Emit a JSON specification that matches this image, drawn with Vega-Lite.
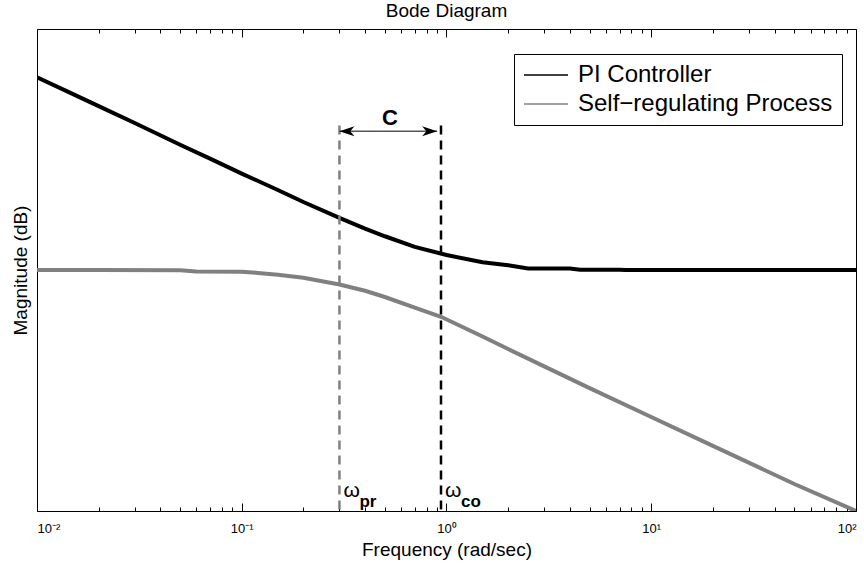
{
  "$schema": "https://vega.github.io/schema/vega-lite/v6.json",
  "width": 819,
  "height": 482,
  "autosize": {"type": "none"},
  "padding": {"left": 37, "top": 29, "right": 8, "bottom": 56},
  "background": "white",
  "title": {"text": "Bode Diagram", "fontSize": 19, "font": "Liberation Sans", "fontWeight": "normal", "offset": 8, "anchor": "middle", "color": "black"},
  "config": {
    "view": {"stroke": "black", "strokeWidth": 1},
    "font": "Liberation Sans",
    "axis": {"grid": false, "domain": false, "tickColor": "black", "labelColor": "black", "titleColor": "black", "labelFont": "Liberation Sans", "titleFont": "Liberation Sans", "titleFontWeight": "normal"}
  },
  "datasets": {
    "curves": [
      {"freq": 0.01, "mag": 40.0, "series": "PI Controller"},
      {"freq": 0.015, "mag": 36.5, "series": "PI Controller"},
      {"freq": 0.02, "mag": 34.0, "series": "PI Controller"},
      {"freq": 0.03, "mag": 30.5, "series": "PI Controller"},
      {"freq": 0.05, "mag": 26.0, "series": "PI Controller"},
      {"freq": 0.07, "mag": 23.1, "series": "PI Controller"},
      {"freq": 0.1, "mag": 20.0, "series": "PI Controller"},
      {"freq": 0.15, "mag": 16.6, "series": "PI Controller"},
      {"freq": 0.2, "mag": 14.1, "series": "PI Controller"},
      {"freq": 0.3, "mag": 10.8, "series": "PI Controller"},
      {"freq": 0.4, "mag": 8.6, "series": "PI Controller"},
      {"freq": 0.5, "mag": 7.0, "series": "PI Controller"},
      {"freq": 0.7, "mag": 4.8, "series": "PI Controller"},
      {"freq": 1.0, "mag": 3.1, "series": "PI Controller"},
      {"freq": 1.5, "mag": 1.6, "series": "PI Controller"},
      {"freq": 2.0, "mag": 1.0, "series": "PI Controller"},
      {"freq": 2.5, "mag": 0.3, "series": "PI Controller"},
      {"freq": 3.0, "mag": 0.3, "series": "PI Controller"},
      {"freq": 4.0, "mag": 0.3, "series": "PI Controller"},
      {"freq": 4.5, "mag": 0.05, "series": "PI Controller"},
      {"freq": 7.0, "mag": 0.05, "series": "PI Controller"},
      {"freq": 7.5, "mag": 0.0, "series": "PI Controller"},
      {"freq": 20.0, "mag": 0.0, "series": "PI Controller"},
      {"freq": 100.0, "mag": 0.0, "series": "PI Controller"},
      {"freq": 0.01, "mag": 0.0, "series": "Self−regulating Process"},
      {"freq": 0.02, "mag": -0.02, "series": "Self−regulating Process"},
      {"freq": 0.05, "mag": -0.05, "series": "Self−regulating Process"},
      {"freq": 0.06, "mag": -0.3, "series": "Self−regulating Process"},
      {"freq": 0.1, "mag": -0.35, "series": "Self−regulating Process"},
      {"freq": 0.12, "mag": -0.6, "series": "Self−regulating Process"},
      {"freq": 0.15, "mag": -0.97, "series": "Self−regulating Process"},
      {"freq": 0.2, "mag": -1.6, "series": "Self−regulating Process"},
      {"freq": 0.3, "mag": -3.0, "series": "Self−regulating Process"},
      {"freq": 0.4, "mag": -4.3, "series": "Self−regulating Process"},
      {"freq": 0.5, "mag": -5.6, "series": "Self−regulating Process"},
      {"freq": 0.7, "mag": -7.8, "series": "Self−regulating Process"},
      {"freq": 0.94, "mag": -9.7, "series": "Self−regulating Process"},
      {"freq": 1.5, "mag": -13.8, "series": "Self−regulating Process"},
      {"freq": 2.0, "mag": -16.4, "series": "Self−regulating Process"},
      {"freq": 3.0, "mag": -20.0, "series": "Self−regulating Process"},
      {"freq": 5.0, "mag": -24.5, "series": "Self−regulating Process"},
      {"freq": 10.0, "mag": -30.5, "series": "Self−regulating Process"},
      {"freq": 20.0, "mag": -36.5, "series": "Self−regulating Process"},
      {"freq": 50.0, "mag": -44.4, "series": "Self−regulating Process"},
      {"freq": 100.0, "mag": -50.0, "series": "Self−regulating Process"}
    ],
    "markers": [
      {"name": "pr", "freq": 0.3, "sym": "ω", "sub": "pr"},
      {"name": "co", "freq": 0.94, "sym": "ω", "sub": "co"}
    ],
    "span": [
      {"from": 0.3, "to": 0.9, "mid": 0.53, "mag": 28.8, "label": "C"}
    ]
  },
  "layer": [
    {
      "data": {"name": "curves"},
      "mark": {"type": "line", "strokeWidth": 4, "clip": true},
      "encoding": {
        "x": {"field": "freq", "type": "quantitative", "scale": {"type": "log", "domain": [0.01, 100], "nice": false},
          "axis": {"orient": "bottom", "values": [0.01, 0.1, 1, 10, 100], "tickSize": -8, "labelFontSize": 13, "labelPadding": 19,
            "labelExpr": "datum.value < 0.05 ? '10⁻²' : datum.value < 0.5 ? '10⁻¹' : datum.value < 5 ? '10⁰' : datum.value < 50 ? '10¹' : '10²'",
            "title": "Frequency  (rad/sec)", "titleFontSize": 19, "titlePadding": 5}},
        "y": {"field": "mag", "type": "quantitative", "scale": {"domain": [-50, 50], "nice": false, "zero": false},
          "axis": {"ticks": false, "labels": false, "title": "Magnitude (dB)", "titleFontSize": 19, "titlePadding": 7}},
        "color": {"field": "series", "type": "nominal",
          "scale": {"domain": ["PI Controller", "Self−regulating Process"], "range": ["black", "#808080"]},
          "legend": {"orient": "none", "legendX": 477, "legendY": 25, "title": null, "symbolType": "M-1,0H3", "symbolSize": 484,
            "symbolStrokeWidth": 1.6, "symbolOpacity": 1, "symbolFillColor": "transparent", "labelFontSize": 24, "labelFont": "Liberation Sans", "labelColor": "black", "strokeColor": "black",
            "fillColor": "white", "padding": 9, "rowPadding": 5, "labelOffset": 31, "labelLimit": 400}}
      }
    },
    {
      "data": {"name": "markers"},
      "mark": {"type": "rule", "strokeWidth": 2.5, "strokeDash": [9, 6]},
      "encoding": {
        "x": {"field": "freq", "type": "quantitative",
          "axis": {"orient": "bottom", "values": [0.02, 0.03, 0.04, 0.05, 0.06, 0.07, 0.08, 0.09, 0.2, 0.3, 0.4, 0.5, 0.6, 0.7, 0.8, 0.9, 2, 3, 4, 5, 6, 7, 8, 9, 20, 30, 40, 50, 60, 70, 80, 90],
            "tickSize": -4, "labels": false, "title": null}},
        "y": {"datum": 30},
        "y2": {"datum": -50},
        "color": {"condition": {"test": "datum.name == 'pr'", "value": "#808080"}, "value": "black"}
      }
    },
    {
      "data": {"name": "span"},
      "mark": {"type": "rule", "strokeWidth": 1.5, "color": "#555555"},
      "encoding": {
        "x": {"field": "from", "type": "quantitative",
          "axis": {"orient": "top", "values": [0.01, 0.1, 1, 10, 100], "tickSize": -8, "labels": false, "title": null}},
        "x2": {"field": "to"},
        "y": {"field": "mag", "type": "quantitative"}
      }
    },
    {
      "data": {"name": "span"},
      "mark": {"type": "point", "filled": true, "color": "black", "opacity": 1, "size": 900, "shape": "M0,0L1,-0.33L0.72,0L1,0.33Z"},
      "encoding": {
        "x": {"field": "from", "type": "quantitative",
          "axis": {"orient": "top", "values": [0.02, 0.03, 0.04, 0.05, 0.06, 0.07, 0.08, 0.09, 0.2, 0.3, 0.4, 0.5, 0.6, 0.7, 0.8, 0.9, 2, 3, 4, 5, 6, 7, 8, 9, 20, 30, 40, 50, 60, 70, 80, 90],
            "tickSize": -4, "labels": false, "title": null}},
        "y": {"field": "mag", "type": "quantitative"}
      }
    },
    {
      "data": {"name": "span"},
      "mark": {"type": "point", "filled": true, "color": "black", "opacity": 1, "size": 900, "shape": "M0,0L-1,-0.33L-0.72,0L-1,0.33Z"},
      "encoding": {
        "x": {"field": "to", "type": "quantitative", "axis": null},
        "y": {"field": "mag", "type": "quantitative"}
      }
    },
    {
      "data": {"name": "span"},
      "mark": {"type": "text", "fontSize": 22, "fontWeight": "bold", "baseline": "middle", "align": "center", "dy": -13, "color": "black"},
      "encoding": {
        "x": {"field": "mid", "type": "quantitative", "axis": null},
        "y": {"field": "mag", "type": "quantitative"},
        "text": {"field": "label"}
      }
    },
    {
      "data": {"name": "markers"},
      "mark": {"type": "text", "fontSize": 21, "baseline": "alphabetic", "align": "left", "dx": 4, "dy": -14, "color": "black"},
      "encoding": {
        "x": {"field": "freq", "type": "quantitative", "axis": null},
        "y": {"datum": -50},
        "text": {"field": "sym"}
      }
    },
    {
      "data": {"name": "markers"},
      "mark": {"type": "text", "fontSize": 17, "fontWeight": "bold", "baseline": "alphabetic", "align": "left", "dx": 20, "dy": -4, "color": "black"},
      "encoding": {
        "x": {"field": "freq", "type": "quantitative", "axis": null},
        "y": {"datum": -50},
        "text": {"field": "sub"}
      }
    }
  ],
  "resolve": {"axis": {"x": "independent"}}
}
